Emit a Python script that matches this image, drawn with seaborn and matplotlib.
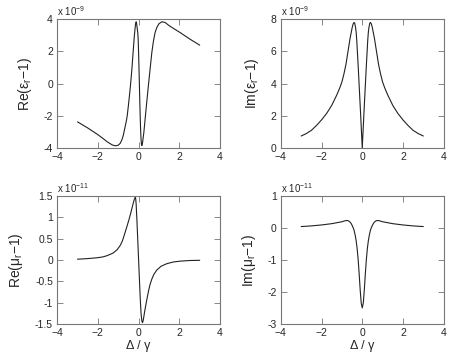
import numpy as np
import pandas as pd
import matplotlib
matplotlib.use('Agg')
import matplotlib.pyplot as plt
import matplotlib.ticker as ticker
import seaborn as sns

# values (x = detuning / gamma)
re_eps_x = [-3.0, -2.5, -2.03, -1.75, -1.54, -1.3, -1.14, -1.0, -0.9, -0.81, -0.75, -0.7, -0.65, -0.6,
            -0.56, -0.5, -0.45, -0.4, -0.33, -0.27, -0.21, -0.18, -0.15, -0.12, -0.1, -0.08, -0.04,
            -0.02, 0.0, 0.02, 0.04, 0.06, 0.08, 0.1, 0.12, 0.14, 0.16, 0.18, 0.2, 0.23, 0.26, 0.32,
            0.4, 0.48, 0.56, 0.65, 0.73, 0.81, 0.9, 1.0, 1.14, 1.3, 1.5, 1.75, 2.03, 2.5, 3.0]
re_eps_y = [-2.37, -2.75, -3.14, -3.4, -3.61, -3.8, -3.86, -3.82, -3.7, -3.45, -3.2, -2.9, -2.6, -2.3,
            -2.0, -1.35, -0.75, -0.13, 0.9, 1.94, 2.95, 3.35, 3.7, 3.84, 3.75, 3.55, 3.15,
            2.76, 1.9, 0.9, -0.1, -1.17, -2.1, -2.9, -3.45, -3.76, -3.84, -3.75, -3.6, -3.3, -3.0, -2.2,
            -1.15, -0.13, 0.85, 1.94, 2.65, 3.18, 3.5, 3.72, 3.84, 3.8, 3.6, 3.4, 3.18, 2.78, 2.39]

im_eps_x = [-3.0, -2.75, -2.5, -2.25, -2.0, -1.75, -1.5, -1.25, -1.1, -1.0, -0.9, -0.8, -0.7,
            -0.6, -0.5, -0.45, -0.4, -0.37, -0.33, -0.3, -0.27, -0.24, -0.2, -0.16, -0.12, -0.08,
            -0.04, 0.0, 0.04, 0.08, 0.12, 0.16, 0.2, 0.24, 0.27, 0.3, 0.33, 0.37, 0.4, 0.45, 0.5,
            0.6, 0.7, 0.8, 0.9, 1.0, 1.1, 1.25, 1.5, 1.75, 2.0, 2.25, 2.5, 2.75, 3.0]
im_eps_y = [0.75, 0.9, 1.1, 1.4, 1.75, 2.15, 2.65, 3.3, 3.75, 4.1, 4.6, 5.2, 6.0,
            6.8, 7.45, 7.7, 7.8, 7.75, 7.5, 7.2, 6.7, 6.0, 5.1, 4.1, 3.1, 2.1,
            1.05, 0.02, 1.05, 2.1, 3.1, 4.1, 5.1, 6.0, 6.7, 7.2, 7.5, 7.75, 7.8, 7.7, 7.45,
            6.8, 6.0, 5.2, 4.6, 4.1, 3.75, 3.3, 2.65, 2.15, 1.75, 1.4, 1.1, 0.9, 0.75]

re_mu_x = [-3.0, -2.5, -2.03, -1.75, -1.54, -1.25, -1.05, -0.9, -0.8, -0.73, -0.6, -0.48, -0.4,
           -0.32, -0.25, -0.2, -0.16, -0.14, -0.12, -0.08, -0.04, 0.0, 0.04, 0.08, 0.12, 0.16,
           0.19, 0.22, 0.25, 0.3, 0.35, 0.4, 0.5, 0.56, 0.65, 0.75, 0.89, 1.1, 1.38, 1.7, 2.03, 2.5, 3.0]
re_mu_y = [0.016, 0.03, 0.05, 0.07, 0.1, 0.16, 0.24, 0.34, 0.44, 0.54, 0.74, 0.93, 1.07,
           1.22, 1.35, 1.43, 1.47, 1.42, 1.3, 0.9, 0.45, 0.0, -0.45, -0.9, -1.25, -1.43,
           -1.47, -1.43, -1.35, -1.2, -1.07, -0.94, -0.7, -0.58, -0.45, -0.34, -0.24, -0.15, -0.09, -0.05,
           -0.03, -0.015, -0.01]

im_mu_x = [-3.0, -2.5, -2.0, -1.5, -1.25, -1.0, -0.85, -0.75, -0.68, -0.6, -0.55, -0.5, -0.45, -0.4,
           -0.35, -0.3, -0.25, -0.2, -0.15, -0.1, -0.05, 0.0, 0.05, 0.1, 0.15, 0.2, 0.25, 0.3,
           0.35, 0.4, 0.45, 0.5, 0.55, 0.6, 0.68, 0.75, 0.85, 1.0, 1.25, 1.5, 2.0, 2.5, 3.0]
im_mu_y = [0.04, 0.06, 0.09, 0.13, 0.16, 0.19, 0.22, 0.23, 0.22, 0.18, 0.14, 0.08, 0.01, -0.08,
           -0.22, -0.4, -0.65, -1.0, -1.45, -1.95, -2.35, -2.5, -2.35, -1.95, -1.45, -1.0, -0.65, -0.4,
           -0.22, -0.08, 0.01, 0.08, 0.14, 0.18, 0.22, 0.23, 0.22, 0.19, 0.16, 0.13, 0.09, 0.06, 0.04]

sns.set_style('ticks')
plt.rcParams['font.family'] = ['Liberation Sans', 'DejaVu Sans']
plt.rcParams['mathtext.fontset'] = 'custom'
plt.rcParams['mathtext.rm'] = 'Liberation Sans'
plt.rcParams['mathtext.it'] = 'Liberation Sans:italic'

fig = plt.figure(figsize=(4.5, 3.56), dpi=100)

panels = [
    (re_eps_x, re_eps_y, [0.127, 0.584, 0.362, 0.362], (-4, 4), [-4, -2, 0, 2, 4],
     'Re(ε$_{\\mathrm{r}}$−1)', '-9', False),
    (im_eps_x, im_eps_y, [0.624, 0.584, 0.362, 0.362], (0, 8), [0, 2, 4, 6, 8],
     'Im(ε$_{\\mathrm{r}}$−1)', '-9', False),
    (re_mu_x, re_mu_y, [0.127, 0.090, 0.362, 0.360], (-1.5, 1.5), [-1.5, -1, -0.5, 0, 0.5, 1, 1.5],
     'Re(μ$_{\\mathrm{r}}$−1)', '-11', True),
    (im_mu_x, im_mu_y, [0.624, 0.090, 0.362, 0.360], (-3, 1), [-3, -2, -1, 0, 1],
     'Im(μ$_{\\mathrm{r}}$−1)', '-11', True),
]

for xs, ys, rect, ylim, yticks, ylab, expo, bottom in panels:
    ax = fig.add_axes(rect)
    df = pd.DataFrame({'x': xs, 'y': ys})
    sns.lineplot(data=df, x='x', y='y', ax=ax, color='#222222', linewidth=0.8, sort=False)
    ax.set_xlim(-4, 4)
    ax.set_ylim(*ylim)
    ax.set_xticks([-4, -2, 0, 2, 4])
    ax.set_yticks(yticks)
    ax.yaxis.set_major_formatter(ticker.FormatStrFormatter('%g'))
    ax.tick_params(direction='in', top=True, right=True, length=4.5, width=0.7,
                   color='#888888', labelsize=7.5)
    ax.tick_params(axis='x', pad=3)
    ax.tick_params(axis='y', pad=3)
    for s in ax.spines.values():
        s.set_color('#777777')
        s.set_linewidth(0.8)
    ax.set_ylabel(ylab, fontsize=10, labelpad=7)
    ax.set_xlabel('Δ / γ' if bottom else '', fontsize=9, labelpad=1)
    ax.text(0.0, 1.01, 'x 10$^{' + expo + '}$', transform=ax.transAxes,
            fontsize=7, ha='left', va='bottom')

fig.savefig('out.png', dpi=100)
